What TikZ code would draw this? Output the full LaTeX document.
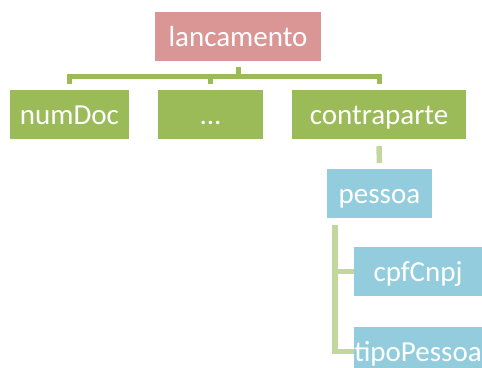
\documentclass[tikz,border=0pt]{standalone}
\usepackage{fontspec}
\setmainfont{Carlito}
\usetikzlibrary{calc}
\definecolor{rosebox}{HTML}{D99694}
\definecolor{greenbox}{HTML}{9BBB59}
\definecolor{bluebox}{HTML}{93CDDD}
\definecolor{palegreen}{HTML}{C3D69B}
\tikzset{
  box/.style= {draw=none, text=white, inner sep=0, minimum height=49pt,
               text height=25pt, text depth=6pt,
               font=\fontsize{29}{31}\selectfont},
  rootbox/.style= {box, fill=rosebox},
  leafbox/.style= {box, fill=greenbox},
  subbox/.style= {box, fill=bluebox},
  conn/.style= {draw=greenbox, line width=5pt, line join=miter},
  subconn/.style= {draw=palegreen, line width=5.5pt, line join=miter},
}

\begin{document}
\begin{tikzpicture}[x=1pt, y=-1pt]
  \useasboundingbox (0,0) rectangle (482,367);
  \node [rootbox, minimum width=166pt] (lanc) at (238,36.5) {lancamento} ;
  \node [leafbox, minimum width=119pt] (numdoc) at (69.5,114.5) {numDoc} ;
  \node [leafbox, minimum width=105pt] (dots) at (210.5,114.5) {...} ;
  \node [leafbox, minimum width=174pt] (contra) at (379,114.5) {contraparte} ;
  \node [subbox, minimum width=105pt] (pessoa) at (379.5,193.5) {pessoa} ;
  \node [subbox, minimum width=128pt] (cpf) at (418,271.5) {cpfCnpj} ;
  \node [subbox, minimum width=128pt] (tipo) at (418,351.5) {tipoPessoa} ;
  \coordinate (hub) at (238,76.5) ;

  \draw [conn] ([yshift=-6pt]lanc.south) -- (hub) ;
  \draw [conn] ([yshift=6pt]numdoc.north) |- (hub) -| ([yshift=6pt]contra.north) ;
  \draw [conn] ([yshift=6pt]dots.north) -- (dots.north |- hub) ;
  \draw [subconn] ([yshift=-7pt]contra.south) -- ([yshift=6pt]pessoa.north) ;
  \draw [subconn] ([xshift=8pt,yshift=-7pt]pessoa.south west) |- (cpf.west) ;
  \draw [subconn] ([xshift=8pt,yshift=-7pt]pessoa.south west) |- (tipo.west) ;
\end{tikzpicture}
\end{document}
